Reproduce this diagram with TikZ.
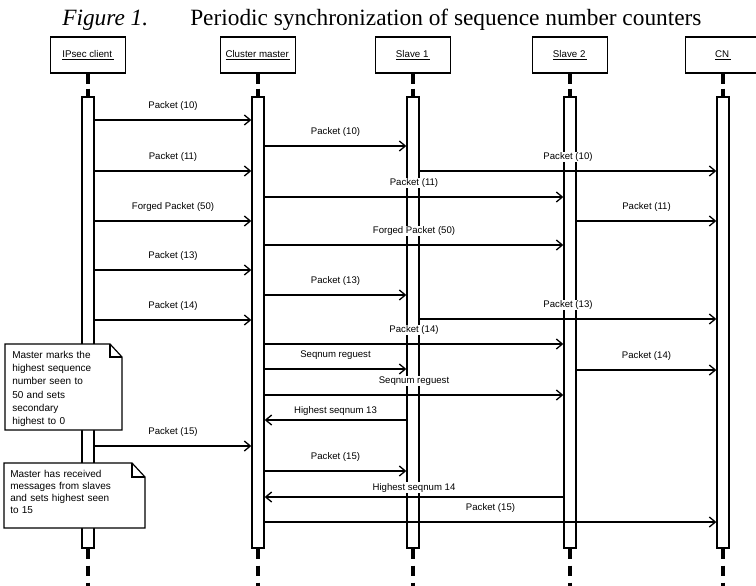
\documentclass[tikz,border=0pt]{standalone}
\usepackage{fontspec}
\setmainfont{Liberation Serif}
\newfontfamily\arialf{Liberation Sans}
\usetikzlibrary{arrows.meta}
\begin{document}
\begin{tikzpicture}[x=0.75pt,y=-0.75pt,
  hdr/.style={draw, line width=0.9pt, minimum width=56pt, minimum height=27pt, inner sep=0pt, fill=white, font=\arialf\fontsize{7.3}{8}\selectfont},
  actbar/.style={draw, line width=1pt, fill=white, minimum width=9pt, minimum height=338.25pt, inner sep=0pt},
  lifetop/.style={line width=2.3pt, dash pattern=on 7.5pt off 3.75pt},
  lifebot/.style={line width=2.3pt, dash pattern=on 7.5pt off 5.25pt},
  msg/.style={line width=1pt, -{Straight Barb[length=4.5pt,width=7.5pt,line width=1pt]}},
  lbl/.style={font=\arialf\fontsize{7.2}{8}\selectfont, fill=white, inner sep=0.6pt},
  fwd/.style={midway, yshift=10.5pt},
  ret/.style={midway, yshift=7pt},
  notebox/.style={draw, line width=0.9pt, fill=white, line join=miter},
  notetext/.style={font=\arialf\fontsize{7.5}{10}\selectfont, align=left, text width=110pt, anchor=base west, inner sep=0pt},
  titlef/.style={anchor=base west, inner sep=0pt, font=\fontsize{17.5}{20}\selectfont}
]
\useasboundingbox (0,0) rectangle (756,585);

% title
\node[titlef] (fig) at (62,26) {\textit{Figure 1.}};
\node[titlef] (title) at (190,26) {Periodic synchronization of sequence number counters};

% headers
\node[hdr] (h1) at (88,55) {\underline{IPsec client\,}};
\node[hdr] (h2) at (258,55) {\underline{Cluster master\,}};
\node[hdr] (h3) at (413,55) {\underline{Slave 1\,}};
\node[hdr] (h4) at (570,55) {\underline{Slave 2\,}};
\node[hdr] (h5) at (723,55) {\underline{CN\,}};

% bars
\node[actbar] (b1) at (88,322.5) {};
\node[actbar] (b2) at (258,322.5) {};
\node[actbar] (b3) at (413,322.5) {};
\node[actbar] (b4) at (570,322.5) {};
\node[actbar] (b5) at (723,322.5) {};

% lifelines
\foreach \i/\x in {1/88,2/258,3/413,4/570,5/723}{
  \coordinate (e\i) at (\x,600);
  \draw[lifetop] (h\i.south) -- (b\i.north);
  \draw[lifebot] (b\i.south) -- (e\i);
}

% messages
\draw[msg] (b1.east |- 0,120) -- (b2.west |- 0,120) node[lbl,fwd] {Packet (10)};
\draw[msg] (b2.east |- 0,146) -- (b3.west |- 0,146) node[lbl,fwd] {Packet (10)};
\draw[msg] (b1.east |- 0,171) -- (b2.west |- 0,171) node[lbl,fwd] {Packet (11)};
\draw[msg] (b3.east |- 0,171) -- (b5.west |- 0,171) node[lbl,fwd] {Packet (10)};
\draw[msg] (b2.east |- 0,197) -- (b4.west |- 0,197) node[lbl,fwd] {Packet (11)};
\draw[msg] (b1.east |- 0,221) -- (b2.west |- 0,221) node[lbl,fwd] {Forged Packet (50)};
\draw[msg] (b4.east |- 0,221) -- (b5.west |- 0,221) node[lbl,fwd] {Packet (11)};
\draw[msg] (b2.east |- 0,245) -- (b4.west |- 0,245) node[lbl,fwd] {Forged Packet (50)};
\draw[msg] (b1.east |- 0,270) -- (b2.west |- 0,270) node[lbl,fwd] {Packet (13)};
\draw[msg] (b2.east |- 0,295) -- (b3.west |- 0,295) node[lbl,fwd] {Packet (13)};
\draw[msg] (b1.east |- 0,320) -- (b2.west |- 0,320) node[lbl,fwd] {Packet (14)};
\draw[msg] (b3.east |- 0,319) -- (b5.west |- 0,319) node[lbl,fwd] {Packet (13)};
\draw[msg] (b2.east |- 0,344) -- (b4.west |- 0,344) node[lbl,fwd] {Packet (14)};
\draw[msg] (b2.east |- 0,369) -- (b3.west |- 0,369) node[lbl,fwd] {Seqnum reguest};
\draw[msg] (b4.east |- 0,370) -- (b5.west |- 0,370) node[lbl,fwd] {Packet (14)};
\draw[msg] (b2.east |- 0,395) -- (b4.west |- 0,395) node[lbl,fwd] {Seqnum reguest};
\draw[msg] (b3.west |- 0,420) -- (b2.east |- 0,420) node[lbl,ret] {Highest seqnum 13};
\draw[msg] (b1.east |- 0,446) -- (b2.west |- 0,446) node[lbl,fwd] {Packet (15)};
\draw[msg] (b2.east |- 0,471) -- (b3.west |- 0,471) node[lbl,fwd] {Packet (15)};
\draw[msg] (b4.west |- 0,497) -- (b2.east |- 0,497) node[lbl,ret] {Highest seqnum 14};
\draw[msg] (b2.east |- 0,522) -- (b5.west |- 0,522) node[lbl,fwd] {Packet (15)};

% notes
\draw[notebox] (5,344) -- (110,344) -- (122,357) -- (122,430) -- (5,430) -- cycle;
\draw[line width=0.9pt] (110,344) -- (110,357) -- (122,357);
\node[notetext] (n1) at (12,358) {Master marks the\\highest sequence\\number seen to\\50 and sets\\secondary\\highest to 0};

\draw[notebox] (4,463) -- (132,463) -- (145,477) -- (145,528) -- (4,528) -- cycle;
\draw[line width=0.9pt] (132,463) -- (132,477) -- (145,477);
\node[notetext, font=\arialf\fontsize{7.5}{9}\selectfont] (n2) at (10,477.5) {Master has received\\messages from slaves\\and sets highest seen\\to 15};
\end{tikzpicture}
\end{document}
